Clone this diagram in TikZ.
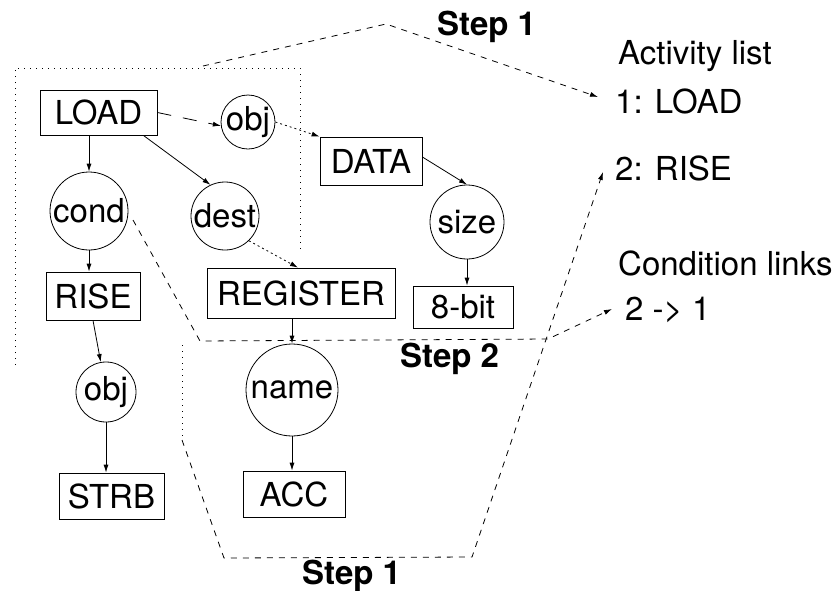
\documentclass[tikz,border=0pt]{standalone}
\usepackage{fontspec}
\setmainfont{TeX Gyre Heros}
\usetikzlibrary{arrows.meta}
\begin{document}
\begin{tikzpicture}[x=1pt,y=-1pt,
  every node/.style={font=\fontsize{33}{38}\selectfont},
  box/.style={draw, line width=0.8pt, inner sep=0pt},
  circ/.style={draw, circle, line width=0.8pt, inner sep=0pt},
  lbl/.style={anchor=base west, inner sep=0pt},
  steplbl/.style={lbl, font=\fontsize{33}{38}\selectfont\bfseries},
  arr/.style={line width=0.8pt, -{Latex[length=8pt,width=5pt]}},
  stepline/.style={line width=0.8pt, dash pattern=on 6pt off 6pt},
  steparr/.style={stepline, -{Latex[length=8pt,width=5pt]}},
  region/.style={line width=0.8pt, dash pattern=on 1pt off 5pt},
]
\useasboundingbox (0,0) rectangle (832,590);

% boxes
\node[box, minimum width=117pt, minimum height=45pt] (load) at (98.5,112.5) {LOAD};
\node[box, minimum width=102pt, minimum height=48pt] (data) at (371,161) {DATA};
\node[box, minimum width=94pt, minimum height=48pt] (rise) at (93,296) {RISE};
\node[box, minimum width=188pt, minimum height=50pt] (reg) at (301,293) {REGISTER};
\node[box, minimum width=100pt, minimum height=42pt] (bit) at (463,307) {8-bit};
\node[box, minimum width=105pt, minimum height=46pt] (strb) at (111.5,496) {STRB};
\node[box, minimum width=102pt, minimum height=46pt] (acc) at (294,494) {ACC};

% circles
\node[circ, minimum size=54pt] (obja) at (248,122) {obj};
\node[circ, minimum size=78pt] (cond) at (89,211) {cond};
\node[circ, minimum size=68pt] (dest) at (225,216) {dest};
\node[circ, minimum size=74pt] (size) at (467,222) {size};
\node[circ, minimum size=60pt] (objb) at (106,392) {obj};
\node[circ, minimum size=92pt] (name) at (292,390) {name};

% labels
\node[steplbl] (st1a) at (437,35) {Step 1};
\node[lbl] (act) at (618,64) {Activity list};
\node[lbl] (l1) at (615,113) {1: LOAD};
\node[lbl] (l2) at (615,180) {2: RISE};
\node[lbl] (cl) at (618,275) {Condition links};
\node[lbl] (c21) at (625,320) {2 -> 1};
\node[steplbl] (st2) at (400,367) {Step 2};
\node[steplbl] (st1b) at (302,584) {Step 1};

% connectors
\draw[arr] (load.south -| cond.north) -- (cond.north);
\draw[arr] ([xshift=-14pt]load.south east) -- (dest.115);
\draw[arr, dash pattern=on 14pt off 12pt] (load.east) -- (obja.188);
\draw[arr, dash pattern=on 2pt off 3pt] (obja.east) -- (data.north west);
\draw[arr] ([yshift=4pt]data.east) -- (size.north);
\draw[arr] (size.south) -- (size.south |- bit.north);
\draw[arr, dash pattern=on 2pt off 3pt] (dest.-46) -- ([xshift=-3pt]reg.north);
\draw[arr] (cond.south) -- (cond.south |- rise.north);
\draw[arr] (rise.south) -- (objb.100);
\draw[arr] (objb.south) -- (objb.south |- strb.north);
\draw[arr] (name.north |- reg.south) -- (name.north);
\draw[arr] (name.south) -- (name.south |- acc.north);

% step regions
\coordinate (r1) at (15,365);
\coordinate (r2) at (15,68);
\coordinate (r3) at (300,68);
\coordinate (r4) at (300,250);
\draw[region] (r1) -- (r2) -- (r3) -- (r4);

\coordinate (t1) at (203,66);
\coordinate (t2) at (386,24);
\coordinate (t3) at (598,97);
\draw[steparr] (t1) -- (t2) -- (t3);

\coordinate (u1) at (133,220);
\coordinate (u2) at (200,341);
\coordinate (u3) at (548,339);
\coordinate (u4) at (612,309);
\draw[steparr] (u1) -- (u2) -- (u3) -- (u4);

\coordinate (v0) at (182,345);
\coordinate (v1) at (182,440);
\coordinate (v2) at (224,558);
\coordinate (v3) at (472,557);
\coordinate (v4) at (603,172);
\draw[region] (v0) -- (v1);
\draw[steparr] (v1) -- (v2) -- (v3) -- (v4);
\end{tikzpicture}
\end{document}
